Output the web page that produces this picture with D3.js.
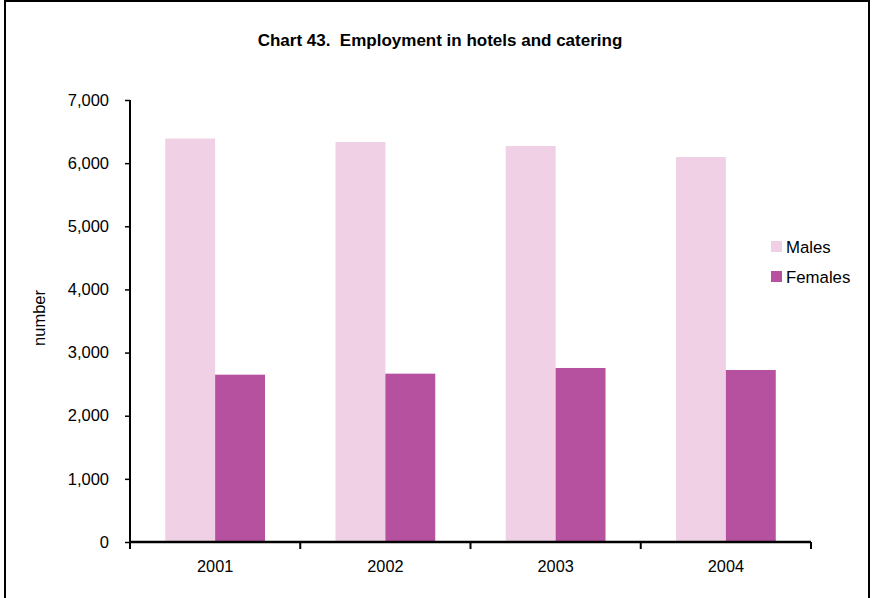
<!DOCTYPE html>
<html><head><meta charset="utf-8">
<script src="https://cdn.jsdelivr.net/npm/d3@7"></script>
<style>html,body{margin:0;padding:0;background:#fff}svg{display:block}text{font-family:"Liberation Sans",Arial,sans-serif}</style>
</head><body>
<svg id="c" width="872" height="598"></svg>
<script>
const years = ["2001","2002","2003","2004"];
const males = [6390, 6335, 6272, 6097];
const females = [2650, 2666, 2756, 2724];
const seriesNames = ["Males","Females"];
const seriesColors = ["#EFD0E5","#B5519F"];
const yTicks = [0,1000,2000,3000,4000,5000,6000,7000];

const svg = d3.select("#c");
svg.append("rect").attr("x",5).attr("y",1).attr("width",864).attr("height",610)
  .attr("fill","none").attr("stroke","#000").attr("stroke-width",2);

const x0 = d3.scaleBand().domain(years).range([130,811]).paddingInner(0).paddingOuter(0);
const inner = 0.586;
const x1 = d3.scaleBand().domain(seriesNames).range([0, x0.bandwidth()*inner]);
const y = d3.scaleLinear().domain([0,7000]).range([542,100]);

const data = [males, females];
const g = svg.append("g");
years.forEach((yr,i)=>{
  const off = x0(yr) + x0.bandwidth()*(1-inner)/2;
  seriesNames.forEach((s,j)=>{
    g.append("rect")
     .attr("x", off + x1(s))
     .attr("y", y(data[j][i]))
     .attr("width", x1.bandwidth())
     .attr("height", y(0)-y(data[j][i]))
     .attr("fill", seriesColors[j]);
  });
});

const yAxis = svg.append("g").attr("transform","translate(130,0)")
  .call(d3.axisLeft(y).tickValues(yTicks).tickFormat(d3.format(",")).tickSize(5).tickPadding(16));
yAxis.select(".domain").attr("stroke-width",2).attr("d","M0,100V542");
yAxis.selectAll(".tick line").attr("stroke-width",1.5);
yAxis.selectAll("text").attr("font-size",16.5).attr("fill","#000");

const xAxis = svg.append("g").attr("transform","translate(0,542)")
  .call(d3.axisBottom(x0).tickSize(0).tickPadding(18));
xAxis.select(".domain").attr("stroke-width",2.5).attr("d","M130,0H811");
xAxis.selectAll("text").attr("font-size",16.3).attr("fill","#000");
const xt = svg.append("g");
x0.domain().concat(["end"]).forEach((d,i)=>{
  const xx = 130 + i*x0.bandwidth();
  xt.append("line").attr("x1",xx).attr("x2",xx).attr("y1",542).attr("y2",549)
    .attr("stroke","#000").attr("stroke-width",2);
});

svg.append("text").attr("x",440).attr("y",46).attr("text-anchor","middle")
  .attr("font-size",17).attr("font-weight","bold").text("Chart 43.  Employment in hotels and catering").style("white-space","pre");

svg.append("text").attr("transform","translate(45,318) rotate(-90)").attr("text-anchor","middle")
  .attr("font-size",16.5).text("number");

const leg = svg.append("g");
seriesNames.forEach((s,j)=>{
  leg.append("rect").attr("x",771).attr("y",241+j*30).attr("width",11).attr("height",11).attr("fill",seriesColors[j]);
  leg.append("text").attr("x",786).attr("y",252.5+j*30).attr("font-size",16.8).text(s);
});
</script>
</body></html>
